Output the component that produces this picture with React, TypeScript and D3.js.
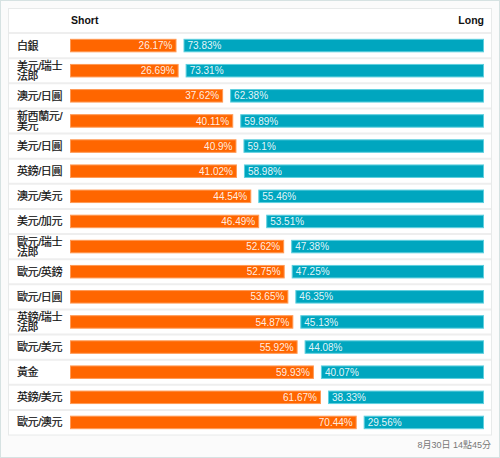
import React from "react";
import * as d3 from "d3";

const categories: string[][] = [
  ["白銀"],
  ["美元/瑞士", "法郎"],
  ["澳元/日圓"],
  ["新西蘭元/", "美元"],
  ["美元/日圓"],
  ["英鎊/日圓"],
  ["澳元/美元"],
  ["美元/加元"],
  ["歐元/瑞士", "法郎"],
  ["歐元/英鎊"],
  ["歐元/日圓"],
  ["英鎊/瑞士", "法郎"],
  ["歐元/美元"],
  ["黃金"],
  ["英鎊/美元"],
  ["歐元/澳元"],
];
const shortValues = [26.17, 26.69, 37.62, 40.11, 40.9, 41.02, 44.54, 46.49, 52.62, 52.75, 53.65, 54.87, 55.92, 59.93, 61.67, 70.44];
const longValues = [73.83, 73.31, 62.38, 59.89, 59.1, 58.98, 55.46, 53.51, 47.38, 47.25, 46.35, 45.13, 44.08, 40.07, 38.33, 29.56];
const headerShort = "Short";
const headerLong = "Long";
const footer = "8月30日 14點45分";

const W = 500;
const H = 458;
const tableX0 = 8.5;
const tableX1 = 491.5;
const tableY0 = 8.5;
const rowsTop = 33;
const rowsBottom = 435;
const barX0 = 70;
const barX1 = 484;
const gap = 7;
const barH = 13.5;

const cjk = "'Liberation Sans', 'Noto Sans CJK TC', sans-serif";
const latin = "'Liberation Sans', Arial, 'DejaVu Sans', sans-serif";

export default function App() {
  const idx = categories.map((_, i) => String(i));
  const y = d3.scaleBand<string>().domain(idx).range([rowsTop, rowsBottom]).padding(0);
  const x = d3.scaleLinear().domain([0, 100]).range([0, barX1 - barX0 - gap]);
  const bw = y.bandwidth();

  return (
    <svg width={W} height={H} style={{ position: "absolute", left: 0, top: 0 }}>
      <rect x={0.5} y={0.5} width={W - 1} height={H - 1} fill="#fbfbfb" stroke="#d6e2e2" />
      <rect x={tableX0} y={tableY0} width={tableX1 - tableX0} height={rowsBottom - tableY0} fill="#ffffff" stroke="#e8eaea" />
      <text x={71} y={23.5} fontFamily={latin} fontWeight="bold" fontSize={10.5} fill="#111">{headerShort}</text>
      <text x={barX1} y={23.5} fontFamily={latin} fontWeight="bold" fontSize={10.5} fill="#111" textAnchor="end">{headerLong}</text>
      {idx.map((k, i) => {
        const top = y(k)!;
        const cy = top + bw / 2;
        const sw = x(shortValues[i]);
        const lx = barX0 + sw + gap;
        const by = cy - barH / 2;
        const lines = categories[i];
        return (
          <g key={k}>
            <line x1={tableX0 + 0.5} x2={tableX1 - 0.5} y1={top} y2={top} stroke="#eeeeee" strokeWidth={2} />
            {lines.map((ln, j) => (
              <text
                key={j}
                x={17}
                y={cy + 4 + (lines.length === 2 ? (j === 0 ? -5 : 5.5) : 0)}
                fontFamily={cjk}
                fontSize={11}
                letterSpacing={-0.4}
                fill="#111"
                stroke="#111"
                strokeWidth={0.2}
              >
                {ln}
              </text>
            ))}
            <rect x={barX0 + 0.5} y={by + 0.5} width={sw - 1} height={barH - 1} fill="#ff6600" stroke="#ff9a55" strokeWidth={1} />
            <text x={barX0 + sw - 4} y={cy + 3.6} fontFamily={latin} fontSize={10} fill="#ffffff" fillOpacity={0.9} textAnchor="end">
              {shortValues[i] + "%"}
            </text>
            <rect x={lx + 0.5} y={by + 0.5} width={barX1 - lx - 1} height={barH - 1} fill="#00a6bf" stroke="#5fd0df" strokeWidth={1} />
            <text x={lx + 4} y={cy + 3.6} fontFamily={latin} fontSize={10} fill="#ffffff" fillOpacity={0.9}>
              {longValues[i] + "%"}
            </text>
          </g>
        );
      })}
      <text x={491} y={448} fontFamily={cjk} fontSize={9} fill="#777" textAnchor="end">{footer}</text>
    </svg>
  );
}
